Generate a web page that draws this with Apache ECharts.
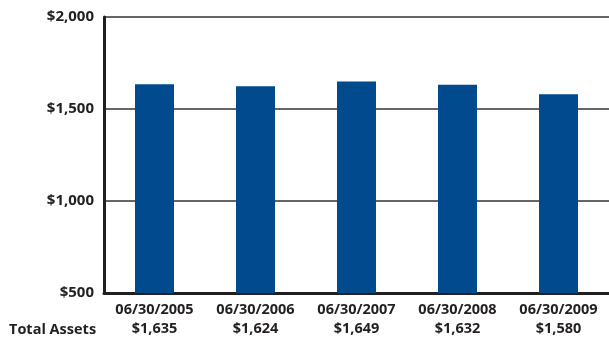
<!DOCTYPE html>
<html>
<head>
<meta charset="utf-8">
<script src="https://cdn.jsdelivr.net/npm/echarts@6/dist/echarts.min.js"></script>
<style>
  html, body { margin: 0; padding: 0; background: #ffffff; }
  #chart { width: 609px; height: 339px; }
</style>
</head>
<body>
<div id="chart"></div>
<script>
// Fiscal year-end dates and total assets (in millions)
const dates = ['06/30/2005', '06/30/2006', '06/30/2007', '06/30/2008', '06/30/2009'];
const totalAssets = [1635, 1624, 1649, 1632, 1580];
const yTicks = [500, 1000, 1500, 2000];
const rowTitle = 'Total Assets';

const fmt = v => '$' + v.toLocaleString('en-US');
const textColor = '#231f20';
const fontFamily = '"Open Sans", "Liberation Sans", sans-serif';

const chart = echarts.init(document.getElementById('chart'), null, { renderer: 'canvas' });
chart.setOption({
  animation: false,
  grid: { left: 104, top: 17, bottom: 46, width: 510, containLabel: false },
  xAxis: {
    type: 'category',
    data: dates,
    axisLine: { show: true, lineStyle: { color: textColor, width: 3 } },
    axisTick: { show: false },
    axisLabel: {
      interval: 0,
      hideOverlap: false,
      margin: 7,
      lineHeight: 19,
      fontFamily, fontSize: 14.5, fontWeight: 'bold', color: textColor,
      formatter: (v, i) => v + '\n' + fmt(totalAssets[i])
    }
  },
  yAxis: {
    type: 'value',
    min: yTicks[0],
    max: yTicks[yTicks.length - 1],
    interval: 500,
    axisLine: { show: true, lineStyle: { color: textColor, width: 3 } },
    axisTick: { show: false },
    splitLine: { show: true, lineStyle: { color: '#666666', width: 2 } },
    axisLabel: {
      margin: 10,
      fontFamily, fontSize: 15, fontWeight: 'bold', color: textColor,
      formatter: v => fmt(v)
    }
  },
  series: [{
    type: 'bar',
    data: totalAssets,
    barWidth: 39,
    itemStyle: { color: '#004a8d' },
    z: 3
  }],
  graphic: [{
    type: 'text',
    left: 9,
    top: 322,
    style: {
      text: rowTitle,
      font: 'bold 14.5px ' + fontFamily,
      fill: textColor
    }
  }]
});
</script>
</body>
</html>
